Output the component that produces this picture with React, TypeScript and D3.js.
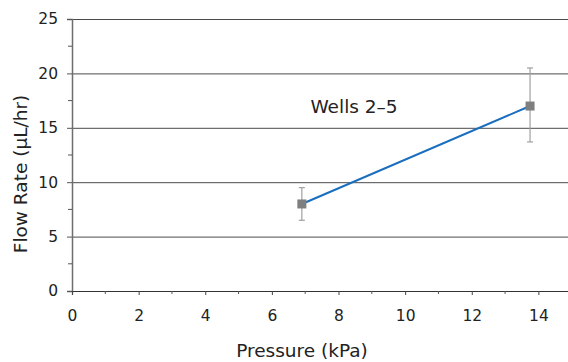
import React, { useEffect, useRef } from 'react';
import * as d3 from 'd3';

// data
const pressure = [6.9, 13.75];
const flowRate = [8.0, 17.0];
const errLow = [6.5, 13.7];
const errHigh = [9.5, 20.5];
const xTicks = [0, 2, 4, 6, 8, 10, 12, 14];
const yTicks = [0, 5, 10, 15, 20, 25];
const seriesLabel = 'Wells 2–5';

const W = 568;
const H = 362;

export default function App() {
  const ref = useRef<SVGSVGElement>(null);

  useEffect(() => {
    const svg = d3.select(ref.current);
    svg.selectAll('*').remove();
    const font = 'Verdana, "DejaVu Sans", sans-serif';

    const x = d3.scaleLinear().domain([0, 16]).range([72, 605]);
    const y = d3.scaleLinear().domain([0, 25]).range([291, 19]);

    // grid lines
    svg.append('g')
      .selectAll('line')
      .data(yTicks.filter((d) => d > 0))
      .enter().append('line')
      .attr('x1', x(0)).attr('x2', W)
      .attr('y1', (d) => y(d) + 0.5).attr('y2', (d) => y(d) + 0.5)
      .attr('stroke', '#4a4a4a').attr('stroke-width', 1);

    // y axis
    const yAxis = d3.axisLeft(y).tickValues(yTicks).tickSize(5).tickPadding(9)
      .tickFormat(d3.format('d'));
    const gy = svg.append('g').attr('transform', `translate(${x(0)},0)`).call(yAxis);
    gy.select('.domain').attr('stroke', '#6e6e6e').attr('stroke-width', 1.5);
    gy.selectAll('.tick line').attr('stroke', '#555');
    gy.selectAll('.tick text').attr('font-family', font).attr('font-size', 15.5).attr('fill', '#222');
    const yMinor = d3.range(2.5, 25, 5);
    svg.append('g').selectAll('line').data(yMinor).enter().append('line')
      .attr('x1', x(0) - 4).attr('x2', x(0))
      .attr('y1', (d) => y(d)).attr('y2', (d) => y(d))
      .attr('stroke', '#555');

    // x axis
    const xAxis = d3.axisBottom(x).tickValues(xTicks).tickSize(4).tickPadding(15)
      .tickFormat(d3.format('d'));
    const gx = svg.append('g').attr('transform', `translate(0,${y(0)})`).call(xAxis);
    gx.select('.domain').attr('stroke', '#333').attr('stroke-width', 1.2);
    gx.selectAll('.tick line').attr('stroke', '#444');
    gx.selectAll('.tick text').attr('font-family', font).attr('font-size', 15.5).attr('fill', '#222');
    const xMinor = d3.range(1, 16, 2);
    svg.append('g').selectAll('line').data(xMinor).enter().append('line')
      .attr('x1', (d) => x(d)).attr('x2', (d) => x(d))
      .attr('y1', y(0)).attr('y2', y(0) + 3)
      .attr('stroke', '#555');

    const pts = pressure.map((p, i) => ({ p, f: flowRate[i], lo: errLow[i], hi: errHigh[i] }));

    // error bars
    const eb = svg.append('g').selectAll('g').data(pts).enter().append('g')
      .attr('stroke', '#a0a0a0').attr('stroke-width', 1.2);
    eb.append('line')
      .attr('x1', (d) => x(d.p)).attr('x2', (d) => x(d.p))
      .attr('y1', (d) => y(d.hi)).attr('y2', (d) => y(d.lo));
    eb.append('line')
      .attr('x1', (d) => x(d.p) - 3).attr('x2', (d) => x(d.p) + 3)
      .attr('y1', (d) => y(d.hi)).attr('y2', (d) => y(d.hi));
    eb.append('line')
      .attr('x1', (d) => x(d.p) - 3).attr('x2', (d) => x(d.p) + 3)
      .attr('y1', (d) => y(d.lo)).attr('y2', (d) => y(d.lo));

    // series line
    const line = d3.line<{ p: number; f: number }>().x((d) => x(d.p)).y((d) => y(d.f));
    svg.append('path')
      .datum(pts)
      .attr('d', line)
      .attr('fill', 'none')
      .attr('stroke', '#1a6ebe')
      .attr('stroke-width', 2);

    // markers
    svg.append('g').selectAll('rect').data(pts).enter().append('rect')
      .attr('x', (d) => x(d.p) - 4.5).attr('y', (d) => y(d.f) - 4.5)
      .attr('width', 9).attr('height', 9)
      .attr('fill', '#7f7f7f');

    // series label
    svg.append('text')
      .attr('x', 354).attr('y', 113)
      .attr('text-anchor', 'middle')
      .attr('font-family', font).attr('font-size', 18.5).attr('fill', '#222')
      .text(seriesLabel);

    // axis titles
    svg.append('text')
      .attr('x', 302).attr('y', 357)
      .attr('text-anchor', 'middle')
      .attr('font-family', font).attr('font-size', 18.5).attr('fill', '#222')
      .text('Pressure (kPa)');
    svg.append('text')
      .attr('transform', `translate(27,174) rotate(-90)`)
      .attr('text-anchor', 'middle')
      .attr('font-family', font).attr('font-size', 18.5).attr('fill', '#222')
      .text('Flow Rate (µL/hr)');
  }, []);

  return (
    <svg ref={ref} width={W} height={H}
      style={{ position: 'absolute', left: 0, top: 0, background: '#fff' }} />
  );
}
